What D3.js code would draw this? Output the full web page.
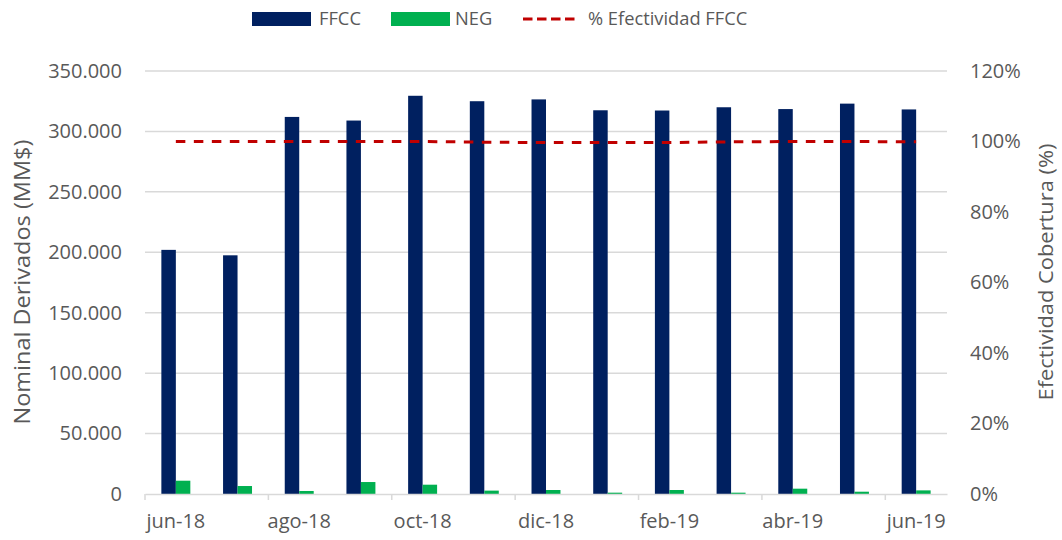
<!DOCTYPE html>
<html>
<head>
<meta charset="utf-8">
<script src="https://cdn.jsdelivr.net/npm/d3@7"></script>
<style>
body { margin: 0; background: #fff; }
text { font-family: "Open Sans", sans-serif; fill: #595959; }
</style>
</head>
<body>
<svg id="chart" width="1062" height="540"></svg>
<script>
var meses = ["jun-18","jul-18","ago-18","sep-18","oct-18","nov-18","dic-18","ene-19","feb-19","mar-19","abr-19","may-19","jun-19"];
var ffcc = [202000, 197500, 312000, 309000, 329500, 325000, 326500, 317500, 317300, 320000, 318500, 323000, 318200];
var neg = [11000, 6600, 2500, 9900, 7700, 2800, 3300, 1100, 3300, 1100, 4400, 1900, 3000];
var efectividad = [100.0, 100.0, 100.0, 100.0, 100.0, 99.8, 99.7, 99.7, 99.7, 99.9, 100.0, 100.0, 99.9];
var leftTicks = [0, 50000, 100000, 150000, 200000, 250000, 300000, 350000];
var rightTicks = [0, 20, 40, 60, 80, 100, 120];
var series = ["FFCC","NEG"];

var svg = d3.select("#chart");
var margin = {left: 145, right: 115, top: 71, bottom: 46};
var width = 1062 - margin.left - margin.right,
    height = 540 - margin.top - margin.bottom;

var colors = d3.scaleOrdinal().domain(series).range(["#002060","#00B050"]);

var x = d3.scaleBand().domain(meses).range([0, width]).padding(0);
var x1 = d3.scaleBand().domain(series).range([0, x.bandwidth()]).paddingInner(0).paddingOuter(1.13);
var y = d3.scaleLinear().domain([0, 350000]).range([height, 0]);
var y2 = d3.scaleLinear().domain([0, 120]).range([height, 0]);

var fmt = d3.formatLocale({decimal: ",", thousands: ".", grouping: [3], currency: ["$",""]}).format(",.0f");

var g = svg.append("g").attr("transform", "translate(" + margin.left + "," + margin.top + ")");

// gridlines
g.append("g")
  .selectAll("line")
  .data(leftTicks.slice(1))
  .enter().append("line")
  .attr("x1", 0).attr("x2", width)
  .attr("y1", d => y(d)).attr("y2", d => y(d))
  .attr("stroke", "#d9d9d9").attr("stroke-width", 1.5);

// left axis
var yAxis = g.append("g")
  .call(d3.axisLeft(y).tickValues(leftTicks).tickFormat(d => d == 0 ? "0" : fmt(d)).tickSize(0).tickPadding(23));
yAxis.select(".domain").remove();
yAxis.selectAll("text").style("font-size", "20px").attr("fill", "#595959");

// right axis
var yAxis2 = g.append("g")
  .attr("transform", "translate(" + width + ",0)")
  .call(d3.axisRight(y2).tickValues(rightTicks).tickFormat(d => d + "%").tickSize(0).tickPadding(23));
yAxis2.select(".domain").remove();
yAxis2.selectAll("text").style("font-size", "20px").attr("fill", "#595959");

// bars
var grupos = g.append("g")
  .selectAll("g")
  .data(meses.map(function(m, i) { return {mes: m, valores: [{s: "FFCC", v: ffcc[i]}, {s: "NEG", v: neg[i]}]}; }))
  .enter().append("g")
  .attr("transform", d => "translate(" + x(d.mes) + ",0)");

grupos.selectAll("rect")
  .data(d => d.valores)
  .enter().append("rect")
  .attr("x", d => x1(d.s))
  .attr("width", x1.bandwidth())
  .attr("y", d => y(d.v))
  .attr("height", d => height - y(d.v))
  .attr("fill", d => colors(d.s));

// baseline + x axis
var xAxis = g.append("g")
  .attr("transform", "translate(0," + height + ")")
  .call(d3.axisBottom(x).tickSize(0).tickPadding(20).tickFormat((d, i) => i % 2 == 0 ? d : ""));
xAxis.select(".domain").attr("stroke", "#d9d9d9").attr("stroke-width", 1.5);
xAxis.selectAll("text").style("font-size", "20px").attr("fill", "#595959");

g.append("g")
  .selectAll("line")
  .data(meses.filter((d, i) => i % 2 == 0))
  .enter().append("line")
  .attr("x1", d => x(d)).attr("x2", d => x(d))
  .attr("y1", height).attr("y2", height + 6)
  .attr("stroke", "#d9d9d9").attr("stroke-width", 1.5);

// effectiveness line
var linea = d3.line()
  .x((d, i) => x(meses[i]) + x.bandwidth() / 2)
  .y(d => y2(d));
g.append("path")
  .datum(efectividad)
  .attr("d", linea)
  .attr("fill", "none")
  .attr("stroke", "#c00000")
  .attr("stroke-width", 3)
  .attr("stroke-dasharray", "9.5,8.5");

// axis titles
svg.append("text")
  .attr("transform", "translate(23,282) rotate(-90)")
  .attr("text-anchor", "middle")
  .attr("dy", "0.35em")
  .attr("textLength", 285)
  .attr("lengthAdjust", "spacingAndGlyphs")
  .style("font-size", "21px")
  .text("Nominal Derivados (MM$)");

svg.append("text")
  .attr("transform", "translate(1046,272) rotate(-90)")
  .attr("text-anchor", "middle")
  .attr("dy", "0.35em")
  .attr("textLength", 257)
  .attr("lengthAdjust", "spacingAndGlyphs")
  .style("font-size", "20px")
  .text("Efectividad Cobertura (%)");

// legend
var leyenda = [
  {nombre: "FFCC", tipo: "rect", color: "#002060", x: 252, tx: 319},
  {nombre: "NEG", tipo: "rect", color: "#00B050", x: 391, tx: 455},
  {nombre: "% Efectividad FFCC", tipo: "line", color: "#c00000", x: 523, tx: 588}
];
var lg = svg.append("g").selectAll("g").data(leyenda).enter().append("g");
lg.filter(d => d.tipo == "rect").append("rect")
  .attr("x", d => d.x).attr("y", 12).attr("width", 59).attr("height", 14)
  .attr("fill", d => d.color);
lg.filter(d => d.tipo == "line").append("line")
  .attr("x1", d => d.x).attr("x2", d => d.x + 52)
  .attr("y1", 19).attr("y2", 19)
  .attr("stroke", d => d.color).attr("stroke-width", 3)
  .attr("stroke-dasharray", "9.5,4.5");
lg.append("text")
  .attr("x", d => d.tx).attr("y", 19).attr("dy", "0.35em")
  .style("font-size", "18.3px")
  .text(d => d.nombre);
</script>
</body>
</html>
